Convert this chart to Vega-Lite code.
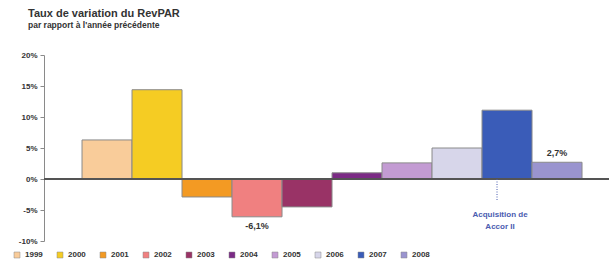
{
  "$schema": "https://vega.github.io/schema/vega-lite/v6.json",
  "width": 565,
  "height": 186,
  "autosize": {"type": "none"},
  "padding": {"left": 44, "top": 55, "right": 0, "bottom": 22},
  "background": "white",
  "config": {
    "view": {"stroke": null},
    "font": "Liberation Sans",
    "axisY": {
      "labelOverlap": false,
      "labelFlush": false,
      "grid": false,
      "domainColor": "#8a8a8a",
      "tickColor": "#8a8a8a",
      "tickSize": 4,
      "labelFontSize": 8,
      "labelFontWeight": "bold",
      "labelColor": "#333333",
      "labelPadding": 3
    }
  },
  "title": {
    "text": "Taux de variation du RevPAR",
    "subtitle": "par rapport à l'année précédente",
    "anchor": "start",
    "frame": "group",
    "dx": -16,
    "offset": 22,
    "fontSize": 11,
    "fontWeight": "bold",
    "color": "#333333",
    "subtitleFontSize": 8.5,
    "subtitleFontWeight": "bold",
    "subtitleColor": "#333333",
    "subtitlePadding": 2
  },
  "datasets": {
    "bars": [
      {"year": "1999", "value": 6.3, "label": null},
      {"year": "2000", "value": 14.4, "label": null},
      {"year": "2001", "value": -2.9, "label": null},
      {"year": "2002", "value": -6.1, "label": "-6,1%"},
      {"year": "2003", "value": -4.5, "label": null},
      {"year": "2004", "value": 1.0, "label": null},
      {"year": "2005", "value": 2.6, "label": null},
      {"year": "2006", "value": 5.0, "label": null},
      {"year": "2007", "value": 11.1, "label": null},
      {"year": "2008", "value": 2.7, "label": "2,7%"}
    ],
    "note": [
      {"year": "2007", "top": 0, "bottom": -3.4, "textpos": -5.2, "text": ["Acquisition de", "Accor II"]}
    ]
  },
  "layer": [
    {
      "data": {"name": "bars"},
      "mark": {"type": "bar", "stroke": "#8a8a8a", "strokeWidth": 1},
      "encoding": {
        "x": {
          "field": "year",
          "type": "nominal",
          "axis": null,
          "scale": {"paddingInner": 0, "paddingOuter": 0.65, "align": 0.585}
        },
        "y": {
          "field": "value",
          "type": "quantitative",
          "scale": {"domain": [-10, 20], "nice": false},
          "axis": {"title": null, "values": [-10, -5, 0, 5, 10, 15, 20], "labelExpr": "datum.value + '%'"}
        },
        "color": {
          "field": "year",
          "type": "nominal",
          "scale": {
            "domain": ["1999", "2000", "2001", "2002", "2003", "2004", "2005", "2006", "2007", "2008"],
            "range": ["#f9cc9a", "#f5cc23", "#f39a23", "#f08080", "#993366", "#7b2a85", "#c39bd3", "#d7d6ea", "#3a5cb8", "#9a94cf"]
          },
          "legend": {
            "title": null,
            "orient": "none",
            "direction": "horizontal",
            "legendX": -31,
            "legendY": 196,
            "symbolType": "square",
            "symbolSize": 36,
            "symbolStrokeColor": "#8a8a8a",
            "symbolStrokeWidth": 0.5,
            "labelFontSize": 8,
            "labelFontWeight": "bold",
            "labelColor": "#333333",
            "labelOffset": 4,
            "columnPadding": 13
          }
        }
      }
    },
    {
      "data": {"name": "bars"},
      "mark": {"type": "rule", "color": "#555555", "strokeWidth": 1},
      "encoding": {
        "y": {"datum": 0, "type": "quantitative", "axis": {"title": null, "values": [-10, -5, 0, 5, 10, 15, 20], "labelExpr": "datum.value + '%'"}}
      }
    },
    {
      "data": {"name": "bars"},
      "transform": [{"filter": "datum.label != null && datum.value < 0"}],
      "mark": {"type": "text", "baseline": "top", "dy": 5, "fontSize": 9, "fontWeight": "bold", "color": "#333333"},
      "encoding": {
        "x": {"field": "year", "type": "nominal"},
        "y": {"field": "value", "type": "quantitative", "axis": {"title": null, "values": [-10, -5, 0, 5, 10, 15, 20], "labelExpr": "datum.value + '%'"}},
        "text": {"field": "label"}
      }
    },
    {
      "data": {"name": "bars"},
      "transform": [{"filter": "datum.label != null && datum.value > 0"}],
      "mark": {"type": "text", "baseline": "bottom", "dy": -4, "fontSize": 9, "fontWeight": "bold", "color": "#333333"},
      "encoding": {
        "x": {"field": "year", "type": "nominal"},
        "y": {"field": "value", "type": "quantitative", "axis": {"title": null, "values": [-10, -5, 0, 5, 10, 15, 20], "labelExpr": "datum.value + '%'"}},
        "text": {"field": "label"}
      }
    },
    {
      "data": {"name": "note"},
      "mark": {"type": "rule", "color": "#4a5cb0", "strokeWidth": 1, "strokeDash": [1, 1.5], "xOffset": -10},
      "encoding": {
        "x": {"field": "year", "type": "nominal"},
        "y": {"field": "top", "type": "quantitative", "axis": {"title": null, "values": [-10, -5, 0, 5, 10, 15, 20], "labelExpr": "datum.value + '%'"}},
        "y2": {"field": "bottom"}
      }
    },
    {
      "data": {"name": "note"},
      "mark": {"type": "text", "baseline": "top", "fontSize": 8, "fontWeight": "bold", "color": "#4a5cb0", "lineHeight": 12, "xOffset": -7},
      "encoding": {
        "x": {"field": "year", "type": "nominal"},
        "y": {"field": "textpos", "type": "quantitative", "axis": {"title": null, "values": [-10, -5, 0, 5, 10, 15, 20], "labelExpr": "datum.value + '%'"}},
        "text": {"field": "text"}
      }
    }
  ]
}
